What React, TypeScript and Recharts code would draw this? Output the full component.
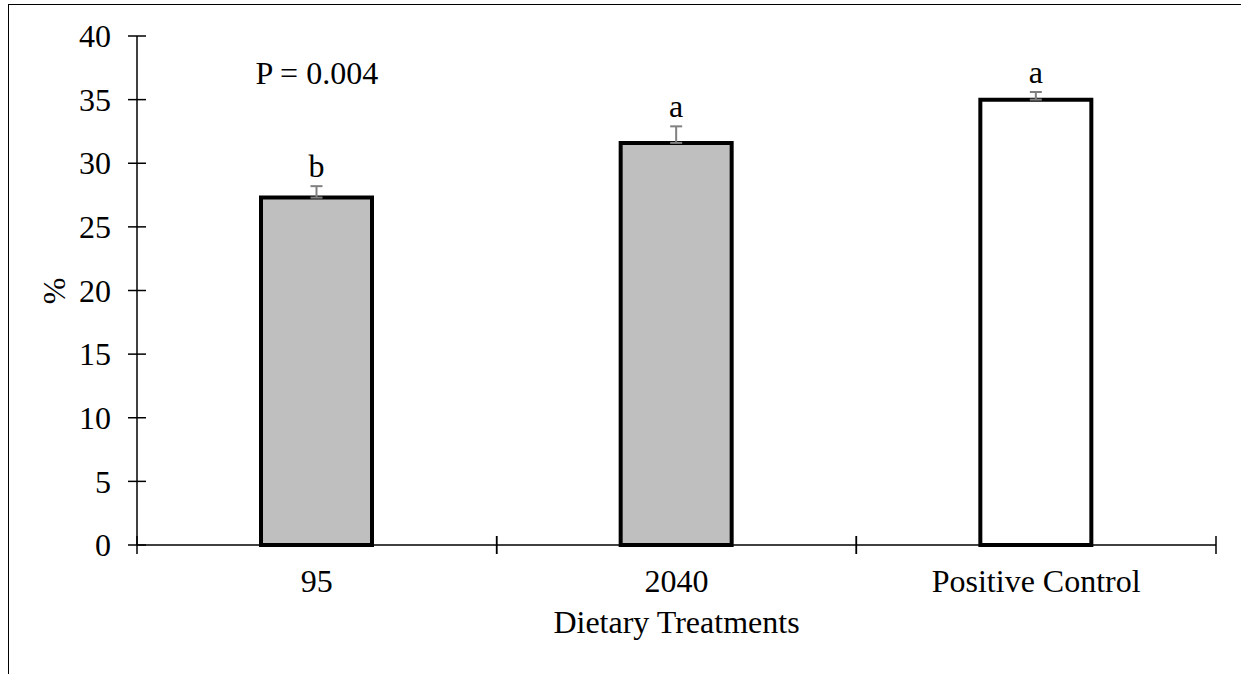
import {
  BarChart,
  Bar,
  Cell,
  XAxis,
  YAxis,
  ErrorBar,
  LabelList,
  ReferenceDot,
} from 'recharts'

const treatments = ['95', '2040', 'Positive Control']
const means = [27.3, 31.6, 35.0]
const stdErrors = [0.9, 1.3, 0.6]
const letters = ['b', 'a', 'a']
const yTicks = [0, 5, 10, 15, 20, 25, 30, 35, 40]
const pValue = 'P = 0.004'

const barFills = ['#bfbfbf', '#bfbfbf', '#ffffff']
const font = '"Liberation Serif", "Times New Roman", serif'
const fontSize = 32

const data = treatments.map((name, i) => ({
  name,
  value: means[i],
  err: [0, stdErrors[i]],
}))

// y ticks cross the axis line, like the spreadsheet original
const YTick = (props: any) => {
  const { x, y, payload } = props
  return (
    <g>
      <line x1={x - 9} x2={x + 9} y1={y} y2={y} stroke="#000" strokeWidth={1.5} />
      <text x={x - 26} y={y} dy="0.35em" textAnchor="end" fontFamily={font} fontSize={fontSize} fill="#000">
        {payload.value}
      </text>
    </g>
  )
}

// x ticks sit at category boundaries, label at the centre
const XTick = (props: any) => {
  const { x, y, payload } = props
  const half = payload.offset || 0
  return (
    <g>
      <line x1={x - half} x2={x - half} y1={y - 9} y2={y + 9} stroke="#000" strokeWidth={1.5} />
      <line x1={x + half} x2={x + half} y1={y - 9} y2={y + 9} stroke="#000" strokeWidth={1.5} />
      <text x={x} y={y + 47} textAnchor="middle" fontFamily={font} fontSize={fontSize} fill="#000">
        {payload.value}
      </text>
    </g>
  )
}

const LetterLabel = (props: any) => {
  const { x, y, width, height, index, value } = props
  const pxPerUnit = height / value
  const top = y - stdErrors[index] * pxPerUnit
  return (
    <text x={x + width / 2} y={top - 9} textAnchor="middle" fontFamily={font} fontSize={fontSize} fill="#000">
      {letters[index]}
    </text>
  )
}

const PLabel = (props: any) => {
  const { viewBox } = props
  const cx = viewBox.x + viewBox.width / 2
  const cy = viewBox.y + viewBox.height / 2
  return (
    <text x={cx} y={cy} dy="0.35em" textAnchor="middle" fontFamily={font} fontSize={fontSize} fill="#000">
      {pValue}
    </text>
  )
}

export default function App() {
  return (
    <>
      <style>{'body{margin:0}'}</style>
      <div
        style={{
          position: 'absolute',
          left: 8,
          top: 4,
          width: 1233,
          height: 670,
          borderTop: '1px solid #000',
          borderLeft: '1px solid #000',
          boxSizing: 'border-box',
          fontFamily: font,
        }}
      >
        <BarChart
          width={1232}
          height={669}
          data={data}
          margin={{ top: 31, right: 25, bottom: 29, left: 0 }}
          barSize={111}
        >
          <XAxis
            dataKey="name"
            height={100}
            tickSize={0}
            tickMargin={0}
            tickLine={false}
            axisLine={{ stroke: '#000', strokeWidth: 1.5 }}
            tick={<XTick />}
            interval={0}
            label={{
              value: 'Dietary Treatments',
              position: 'insideBottom',
              offset: 12,
              fontFamily: font,
              fontSize,
              fill: '#000',
            }}
          />
          <YAxis
            width={128}
            domain={[0, 40]}
            ticks={yTicks}
            interval={0}
            tickSize={0}
            tickMargin={0}
            tickLine={false}
            axisLine={{ stroke: '#000', strokeWidth: 1.5 }}
            tick={<YTick />}
            label={{
              content: () => (
                <text
                  x={44.5}
                  y={286}
                  transform="rotate(-90 44.5 286)"
                  textAnchor="middle"
                  dy="0.35em"
                  fontFamily={font}
                  fontSize={fontSize}
                  fill="#000"
                >
                  %
                </text>
              ),
            }}
          />
          <Bar dataKey="value" stroke="#000" strokeWidth={4} isAnimationActive={false}>
            {data.map((d, i) => (
              <Cell key={d.name} fill={barFills[i]} />
            ))}
            <ErrorBar dataKey="err" direction="y" width={6} stroke="#808080" strokeWidth={2} />
            <LabelList dataKey="value" content={<LetterLabel />} />
          </Bar>
          <ReferenceDot x="95" y={37.1} r={0} fill="none" stroke="none" label={<PLabel />} />
        </BarChart>
      </div>
    </>
  )
}
